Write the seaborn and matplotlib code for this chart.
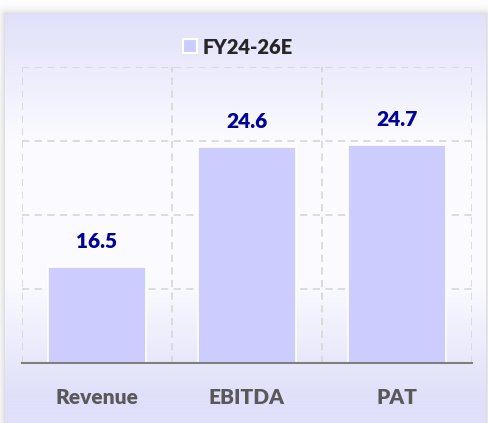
import numpy as np
import pandas as pd
import matplotlib
matplotlib.use("Agg")
import matplotlib.pyplot as plt
import seaborn as sns
from matplotlib.patches import Patch

# data
categories = ["Revenue", "EBITDA", "PAT"]
growth = [16.5, 24.6, 24.7]
series_name = "FY24-26E"
y_ticks = [10, 15, 20, 25, 30]

df = pd.DataFrame({"metric": categories, "value": growth})

W, H = 488, 423
sns.set_theme(style="white")
plt.rcParams["font.family"] = ["Lato", "DejaVu Sans"]
WEIGHT = "heavy"

fig = plt.figure(figsize=(W / 100, H / 100), dpi=100)

# background: white page, soft grey shadow, lavender gradient panel
bg = fig.add_axes([0, 0, 1, 1])
bg.set_axis_off()
yy, xx = np.mgrid[0:H, 0:W].astype(float)
px0, px1, py0 = 5, 485, 15
dx = np.maximum(np.maximum(px0 - xx, xx - px1), 0)
dy = np.maximum(py0 - yy, 0)
d = np.hypot(dx, dy)
img = np.ones((H, W, 3))
shade = 0.16 * np.exp(-d / 4.0)
img -= shade[..., None]
inside = (xx >= px0) & (xx <= px1) & (yy >= py0)
top = np.array([224, 224, 250]) / 255
mid = np.array([251, 251, 255]) / 255
t = np.interp(yy, [py0, 140, 280, 395], [0, 1, 1, 0])
grad = top[None, None, :] * (1 - t[..., None]) + mid[None, None, :] * t[..., None]
img[inside] = grad[inside]
bg.imshow(img, extent=[0, 1, 0, 1], aspect="auto", zorder=0)
bg.set_xlim(0, 1)
bg.set_ylim(0, 1)

ax = fig.add_axes([22 / W, 60 / H, 450 / W, 296 / H])
ax.set_facecolor("none")
sns.barplot(data=df, x="metric", y="value", color="#ccccff", saturation=1,
            width=0.65, edgecolor="white", linewidth=1.2, ax=ax)

ax.set_xlim(-0.5, 2.5)
ax.set_ylim(10, 30)
ax.set_yticks(y_ticks)
ax.set_xticks([-0.5, 0.5, 1.5, 2.5], minor=True)
ax.set_axisbelow(True)
grid_kw = dict(color="#d9d9d9", linestyle=(0, (4, 3)), linewidth=1.3)
ax.grid(axis="y", which="major", **grid_kw)
ax.grid(axis="x", which="minor", **grid_kw)
ax.tick_params(axis="y", left=False, labelleft=False)
ax.tick_params(axis="x", which="both", bottom=False, pad=12)
for lab in ax.get_xticklabels():
    lab.set_fontsize(15)
    lab.set_fontweight(WEIGHT)
    lab.set_color("#595959")
ax.set_xlabel("")
ax.set_ylabel("")
for s in ["top", "left", "right"]:
    ax.spines[s].set_visible(False)
ax.spines["bottom"].set_color("#7f7f7f")
ax.spines["bottom"].set_linewidth(1.5)

for bar, v in zip(ax.patches, growth):
    ax.annotate(f"{v:.1f}", (bar.get_x() + bar.get_width() / 2, bar.get_height() + bar.get_y()),
                xytext=(0, 18.5), textcoords="offset points", ha="center", va="center",
                fontsize=15, fontweight=WEIGHT, color="#000099")

fig.legend(handles=[Patch(facecolor="#ccccff", edgecolor="white", linewidth=1.5,
                          label=series_name)],
           loc="center", bbox_to_anchor=(238 / W, 1 - 47 / H), frameon=False,
           handlelength=0.7, handleheight=0.7, handletextpad=0.3,
           prop={"weight": WEIGHT, "size": 14.5})

fig.savefig("out.png", dpi=100)
